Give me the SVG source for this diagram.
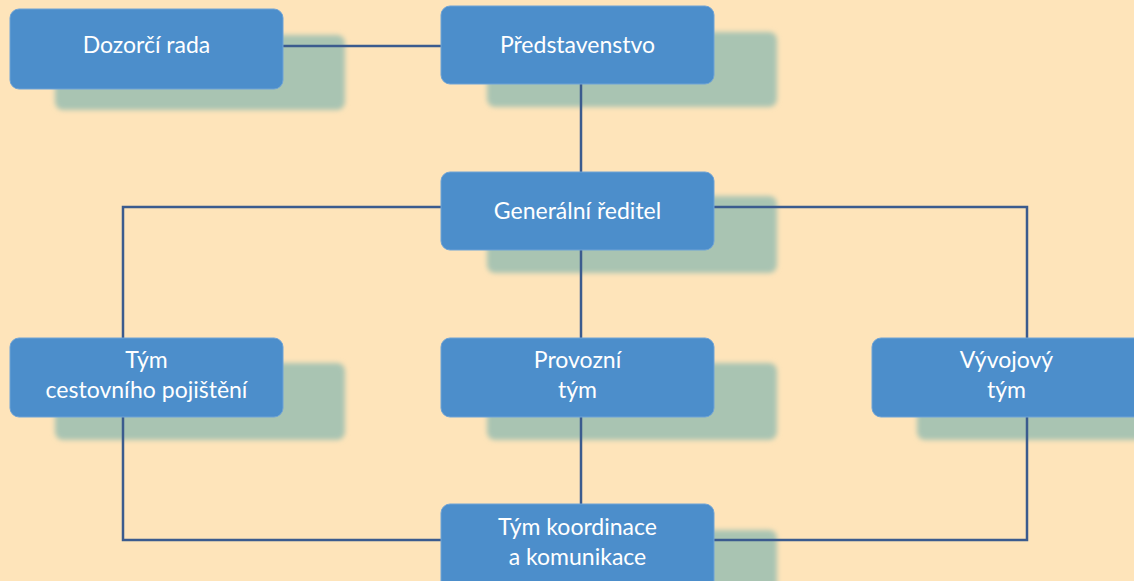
<svg xmlns="http://www.w3.org/2000/svg" width="1134" height="581" viewBox="0 0 1134 581">
<defs>
<filter id="blur" x="-10%" y="-20%" width="120%" height="140%"><feGaussianBlur stdDeviation="2.5"/></filter>
<style>
.sh{fill:#a9c4b2;filter:url(#blur)}
.box{fill:#4c8ecb;stroke:#6fa3d6;stroke-width:1}
.t{font-family:Lato,"Open Sans","Liberation Sans",sans-serif;font-size:23px;fill:#ffffff;text-anchor:middle}
.c{fill:none;stroke:#3b5b8e;stroke-width:2.5}
</style>
</defs>
<rect width="1134" height="581" fill="#fee4ba"/>
<g id="shadows">
<rect class="sh" x="55" y="35" width="290" height="75" rx="8"/>
<rect class="sh" x="487" y="32" width="290" height="75" rx="8"/>
<rect class="sh" x="487" y="196" width="290" height="77" rx="8"/>
<rect class="sh" x="55" y="363" width="290" height="77" rx="8"/>
<rect class="sh" x="487" y="363" width="290" height="77" rx="8"/>
<rect class="sh" x="917" y="363" width="290" height="77" rx="8"/>
<rect class="sh" x="487" y="530" width="290" height="77" rx="8"/>
</g>
<g id="connectors">
<path class="c" d="M283 46H441"/>
<path class="c" d="M581 84V172"/>
<path class="c" d="M441 207H123V338"/>
<path class="c" d="M714 207H1027V338"/>
<path class="c" d="M581 250V338"/>
<path class="c" d="M581 417V504"/>
<path class="c" d="M123 417V540H441"/>
<path class="c" d="M1027 417V540H714"/>
</g>
<g id="dozorci-rada"><rect class="box" x="10" y="9" width="273" height="80" rx="9"/><text class="t" x="146.5" y="53">Dozorčí rada</text></g>
<g id="predstavenstvo"><rect class="box" x="441" y="6" width="273" height="78" rx="9"/><text class="t" x="577.5" y="53">Představenstvo</text></g>
<g id="generalni-reditel"><rect class="box" x="441" y="172" width="273" height="78" rx="9"/><text class="t" x="577.5" y="219">Generální ředitel</text></g>
<g id="tym-cestovniho-pojisteni"><rect class="box" x="10" y="338" width="273" height="79" rx="9"/><text class="t" x="146.5" y="368">Tým</text><text class="t" x="146.5" y="398">cestovního pojištění</text></g>
<g id="provozni-tym"><rect class="box" x="441" y="338" width="273" height="79" rx="9"/><text class="t" x="577.5" y="368">Provozní</text><text class="t" x="577.5" y="398">tým</text></g>
<g id="vyvojovy-tym"><rect class="box" x="872" y="338" width="273" height="79" rx="9"/><text class="t" x="1006.5" y="368">Vývojový</text><text class="t" x="1006.5" y="398">tým</text></g>
<g id="tym-koordinace"><rect class="box" x="441" y="504" width="273" height="90" rx="9"/><text class="t" x="577.5" y="535">Tým koordinace</text><text class="t" x="577.5" y="565">a komunikace</text></g>
</svg>
